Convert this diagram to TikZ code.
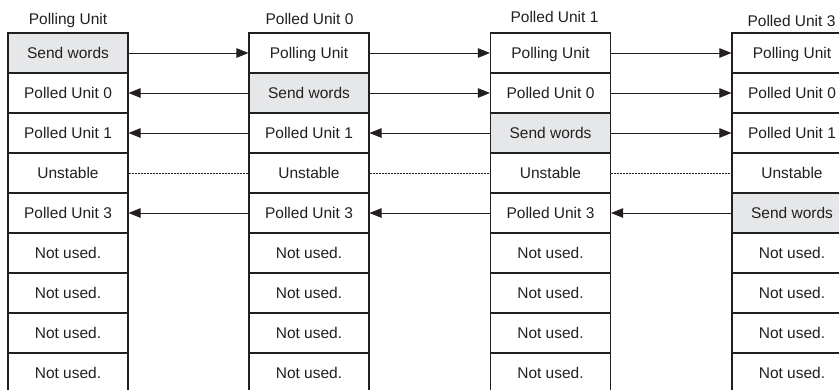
\documentclass[tikz,border=0pt]{standalone}
\usepackage{fontspec}
\setmainfont{Liberation Sans}
\usetikzlibrary{arrows.meta}

\definecolor{sendgray}{HTML}{E6E7E9}
\definecolor{inkgray}{HTML}{231F20}

\begin{document}
\begin{tikzpicture}[
  x=1pt, y=-1pt,
  cell/.style={draw=inkgray, line width=1.1pt, rectangle,
               minimum width=120pt, minimum height=40pt, inner sep=0pt,
               text height=11pt, text depth=0pt, text=inkgray,
               font=\fontsize{15.5}{18}\selectfont},
  sendcell/.style={cell, fill=sendgray},
  ttl/.style={inner sep=0pt, text height=11pt, text depth=0pt,
              text=inkgray, font=\fontsize{15.5}{18}\selectfont},
  arr/.style={-{Triangle[length=12pt,width=9.5pt]}, line width=0.9pt, draw=inkgray},
  dsh/.style={dash pattern=on 2pt off 1pt, line width=0.7pt, draw=inkgray}
]
\useasboundingbox (0,0) rectangle (839,389);

%% ── column titles ───────────────────────────────────────────────────────
\node[ttl] (tpu) at (68,   18.5) {Polling Unit};
\node[ttl] (tp0) at (309.5,18.8) {Polled Unit 0};
\node[ttl] (tp1) at (554.5,17.2) {Polled Unit 1};
\node[ttl] (tp3) at (791.5,20.5) {Polled Unit 3};

%% ── word tables ─────────────────────────────────────────────────────────
% Polling Unit (x = 68)
\foreach \t/\s [count=\r from 0] in {Send words/sendcell, Polled Unit 0/cell,
    Polled Unit 1/cell, Unstable/cell, Polled Unit 3/cell, Not used./cell,
    Not used./cell, Not used./cell, Not used./cell}
  \node[\s] (pu-\r) at (68,{53+40*\r}) {\t};

% Polled Unit 0 (x = 309)
\foreach \t/\s [count=\r from 0] in {Polling Unit/cell, Send words/sendcell,
    Polled Unit 1/cell, Unstable/cell, Polled Unit 3/cell, Not used./cell,
    Not used./cell, Not used./cell, Not used./cell}
  \node[\s] (p0-\r) at (309,{53+40*\r}) {\t};

% Polled Unit 1 (x = 550.5)
\foreach \t/\s [count=\r from 0] in {Polling Unit/cell, Polled Unit 0/cell,
    Send words/sendcell, Unstable/cell, Polled Unit 3/cell, Not used./cell,
    Not used./cell, Not used./cell, Not used./cell}
  \node[\s] (p1-\r) at (550.5,{53+40*\r}) {\t};

% Polled Unit 3 (x = 792, cut at the right edge)
\foreach \t/\s [count=\r from 0] in {Polling Unit/cell, Polled Unit 0/cell,
    Polled Unit 1/cell, Unstable/cell, Send words/sendcell, Not used./cell,
    Not used./cell, Not used./cell, Not used./cell}
  \node[\s] (p3-\r) at (792,{53+40*\r}) {\t};

%% ── transfers ───────────────────────────────────────────────────────────
% word 0: polling unit sends
\draw[arr] (pu-0.east) -- (p0-0.west);
\draw[arr] (p0-0.east) -- (p1-0.west);
\draw[arr] (p1-0.east) -- (p3-0.west);

% word 1: polled unit 0 sends
\draw[arr] (p0-1.west) -- (pu-1.east);
\draw[arr] (p0-1.east) -- (p1-1.west);
\draw[arr] (p1-1.east) -- (p3-1.west);

% word 2: polled unit 1 sends
\draw[arr] (p1-2.west) -- (p0-2.east);
\draw[arr] (p0-2.west) -- (pu-2.east);
\draw[arr] (p1-2.east) -- (p3-2.west);

% word 3: unstable
\draw[dsh] (pu-3.east) -- (p0-3.west);
\draw[dsh] (p0-3.east) -- (p1-3.west);
\draw[dsh] (p1-3.east) -- (p3-3.west);

% word 4: polled unit 3 sends
\draw[arr] (p3-4.west) -- (p1-4.east);
\draw[arr] (p1-4.west) -- (p0-4.east);
\draw[arr] (p0-4.west) -- (pu-4.east);

\end{tikzpicture}
\end{document}
